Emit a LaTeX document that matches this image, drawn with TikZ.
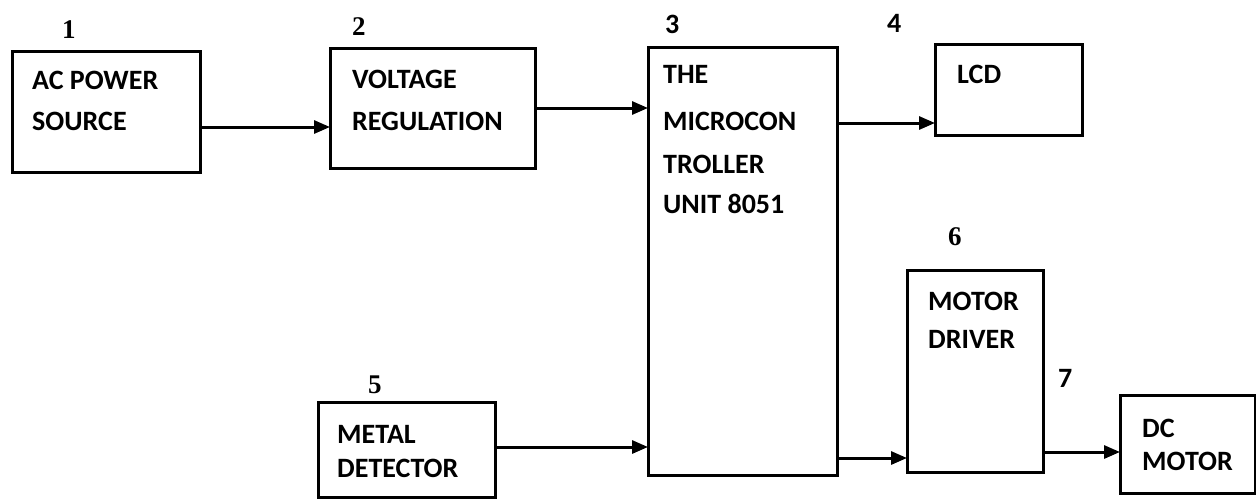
\documentclass[tikz,border=0pt]{standalone}
\usepackage{fontspec}
\setmainfont{Carlito}
\newfontfamily\numserif{Liberation Serif}
\usetikzlibrary{arrows.meta}
\begin{document}
\begin{tikzpicture}[x=1pt,y=-1pt,
  blk/.style={draw, line width=3pt, inner sep=0pt, outer sep=0pt, anchor=north west},
  txt/.style={anchor=base west, inner sep=0pt, font=\fontsize{28}{32}\selectfont\bfseries},
  nums/.style={anchor=base west, inner sep=0pt, font=\fontsize{27}{30}\selectfont\numserif\bfseries},
  numc/.style={anchor=base west, inner sep=0pt, font=\fontsize{28}{32}\selectfont\bfseries},
  arr/.style={line width=3pt, -{Triangle[length=16pt,width=13pt]}}]
\useasboundingbox (0,0) rectangle (1256,499);
% boxes
\node[blk, minimum width=188pt, minimum height=121pt] (b1) at (12,51) {};
\node[blk, minimum width=205pt, minimum height=120pt] (b2) at (330,48) {};
\node[blk, minimum width=189pt, minimum height=428pt] (b3) at (648,47) {};
\node[blk, minimum width=147pt, minimum height=91pt] (b4) at (935,44) {};
\node[blk, minimum width=177pt, minimum height=95pt] (b5) at (318,402) {};
\node[blk, minimum width=136pt, minimum height=202pt] (b6) at (907,270) {};
\node[blk, minimum width=135pt, minimum height=98pt] (b7) at (1120,395) {};
% texts
\node[txt] (t1a) at (32,89) {AC POWER};
\node[txt] (t1b) at (32,130) {SOURCE};
\node[txt] (t2a) at (352,88) {VOLTAGE};
\node[txt] (t2b) at (352,130) {REGULATION};
\node[txt] (t3a) at (663,83) {THE};
\node[txt] (t3b) at (663,130) {MICROCON};
\node[txt] (t3c) at (663,173) {TROLLER};
\node[txt] (t3d) at (663,213) {UNIT 8051};
\node[txt] (t4) at (957,83) {LCD};
\node[txt] (t5a) at (337,443) {METAL};
\node[txt] (t5b) at (337,477) {DETECTOR};
\node[txt] (t6a) at (928,310) {MOTOR};
\node[txt] (t6b) at (928,348) {DRIVER};
\node[txt] (t7a) at (1142,437) {DC};
\node[txt] (t7b) at (1142,470) {MOTOR};
% numbers
\node[nums] (n1) at (62,38) {1};
\node[nums] (n2) at (352,35) {2};
\node[numc] (n3) at (665,33) {3};
\node[numc] (n4) at (887,32) {4};
\node[nums] (n5) at (368,393) {5};
\node[nums] (n6) at (948,245) {6};
\node[numc] (n7) at (1058,387) {7};
% connectors
\draw[arr] (b1.east |- 0,127) -- (b2.west |- 0,127);
\draw[arr] (b2.east |- 0,108) -- (b3.west |- 0,108);
\draw[arr] (b3.east |- 0,123) -- (b4.west |- 0,123);
\draw[arr] (b5.east |- 0,447) -- (b3.west |- 0,447);
\draw[arr] (b3.east |- 0,458) -- (b6.west |- 0,458);
\draw[arr] (b6.east |- 0,452) -- (b7.west |- 0,452);
\end{tikzpicture}
\end{document}
